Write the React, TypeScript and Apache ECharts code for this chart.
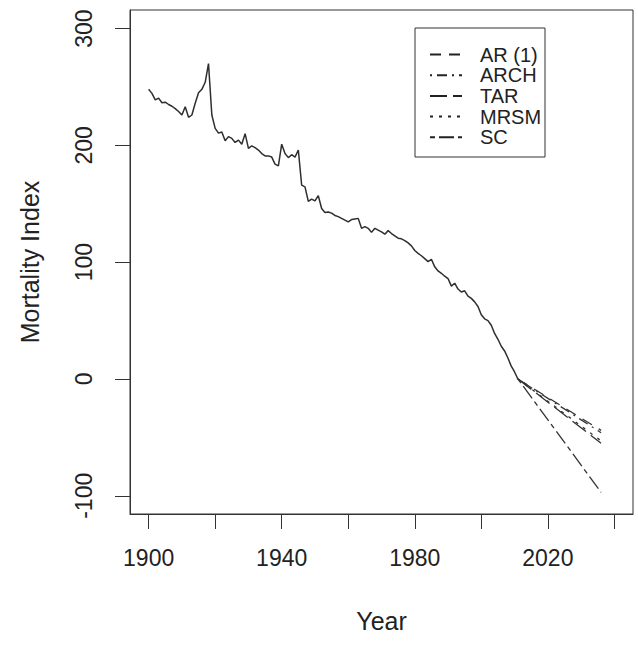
import React, { useEffect, useRef } from "react";
import * as echarts from "echarts";

// Historical mortality index, one value per year starting at 1900
const HIST_START = 1900;
const mortalityIndex = [
  248, 244.5, 239, 240.5, 236.5, 237, 235, 233.5, 231.5, 229,
  226, 233, 224, 226, 236, 245, 248, 254, 270, 226,
  214.5, 210.5, 211.5, 204, 207.5, 206, 202.5, 204.5, 201, 210,
  197.5, 199.5, 198, 196, 193, 191, 191, 190, 184, 182.5,
  201, 193, 189.5, 192, 190, 196, 166, 164.5, 152, 154,
  152.5, 157, 146, 142.5, 143, 142, 140, 139, 137.5, 136,
  134.5, 136.5, 137, 137.5, 129, 130.5, 129, 125.5, 129, 127.5,
  126, 124, 127, 124.5, 122.5, 120.5, 120, 118.5, 116.5, 114,
  110, 107.5, 105.5, 103, 100.5, 102.5, 96, 92.5, 90.5, 88,
  86, 79.5, 82, 77, 74.5, 75.5, 71, 69, 66, 62,
  55, 51.5, 50, 46, 39, 34, 28, 24, 18, 11,
  6, 0,
];

// Forecasts (start and end of each projection)
const forecastYears = [2011, 2036];
const forecastAR1 = [0, -44];
const forecastARCH = [0, -46];
const forecastTAR = [0, -55];
const forecastMRSM = [0, -53];
const forecastSC = [0, -97];

const legendNames = ["AR (1)", "ARCH", "TAR", "MRSM", "SC"];
const xTicks = [1900, 1920, 1940, 1960, 1980, 2000, 2020, 2040];
const xLabels = [1900, 1940, 1980, 2020];
const yTicks = [-100, 0, 100, 200, 300];

const FONT = "'Liberation Sans', Arial, Helvetica, sans-serif";
const dashes: number[][] = [
  [11, 8],
  [2, 5, 10, 5],
  [17, 6],
  [3, 6],
  [5, 4, 15, 4],
];

export default function App() {
  const ref = useRef<HTMLDivElement>(null);
  useEffect(() => {
    if (!ref.current) return;
    const chart = echarts.init(ref.current, undefined, { renderer: "svg" });
    const hist = mortalityIndex.map((v, i) => [HIST_START + i, v]);
    const fc = [forecastAR1, forecastARCH, forecastTAR, forecastMRSM, forecastSC];

    const legendX = 415;
    const legendY = 28;
    const rowY0 = 54.5;
    const rowStep = 20.7;
    const legendGraphics: any[] = [
      {
        type: "rect",
        shape: { x: legendX, y: legendY, width: 130, height: 129 },
        style: { fill: "#fff", stroke: "#333", lineWidth: 1 },
        z: 100,
      },
    ];
    legendNames.forEach((name, i) => {
      const y = rowY0 + i * rowStep;
      legendGraphics.push({
        type: "line",
        shape: { x1: 430, y1: y, x2: 462, y2: y },
        style: { stroke: "#222", lineWidth: 2, lineDash: dashes[i] },
        z: 101,
      });
      legendGraphics.push({
        type: "text",
        x: 480,
        y: y,
        style: {
          text: name,
          font: `20px ${FONT}`,
          fill: "#222",
          textAlign: "left",
          textVerticalAlign: "middle",
        },
        z: 101,
      });
    });

    chart.setOption({
      animation: false,
      backgroundColor: "#fff",
      grid: {
        left: 130,
        right: 5,
        top: 10,
        bottom: 135,
        show: true,
        borderColor: "#333",
        borderWidth: 1,
        backgroundColor: "transparent",
      },
      xAxis: {
        type: "value",
        min: 1894.4,
        max: 2045.6,
        name: "Year",
        nameLocation: "middle",
        nameGap: 94,
        nameTextStyle: { fontSize: 25, color: "#222", fontFamily: FONT },
        axisLine: { show: true, onZero: false, lineStyle: { color: "#333", width: 1 } },
        axisTick: {
          show: true,
          inside: false,
          length: 15,
          customValues: xTicks,
          lineStyle: { color: "#333", width: 1 },
        },
        axisLabel: {
          customValues: xLabels,
          formatter: (v: number) => String(v),
          margin: 32,
          fontSize: 23,
          color: "#222",
          fontFamily: FONT,
        },
        splitLine: { show: false },
      },
      yAxis: {
        type: "value",
        min: -115.6,
        max: 315.9,
        name: "Mortality Index",
        nameLocation: "middle",
        nameGap: 88,
        nameTextStyle: { fontSize: 25, color: "#222", fontFamily: FONT },
        axisLine: { show: true, onZero: false, lineStyle: { color: "#333", width: 1 } },
        axisTick: {
          show: true,
          inside: false,
          length: 15,
          customValues: yTicks,
          lineStyle: { color: "#333", width: 1 },
        },
        axisLabel: {
          customValues: yTicks,
          formatter: (v: number) => String(v),
          rotate: 90,
          margin: 35,
          fontSize: 23,
          color: "#222",
          fontFamily: FONT,
        },
        splitLine: { show: false },
      },
      series: [
        {
          type: "line",
          name: "history",
          data: hist,
          showSymbol: false,
          symbol: "none",
          lineStyle: { color: "#2e2e2e", width: 1.5 },
          silent: true,
        },
        ...fc.map((vals, i) => ({
          type: "line",
          name: legendNames[i],
          data: forecastYears.map((y, j) => [y, vals[j]]),
          showSymbol: false,
          symbol: "none",
          lineStyle: { color: "#333", width: 1.3, type: dashes[i] },
          silent: true,
        })),
      ],
      graphic: legendGraphics,
    });
    return () => chart.dispose();
  }, []);
  return (
    <div
      ref={ref}
      style={{ position: "fixed", left: 0, top: 0, width: 638, height: 649, background: "#fff" }}
    />
  );
}
